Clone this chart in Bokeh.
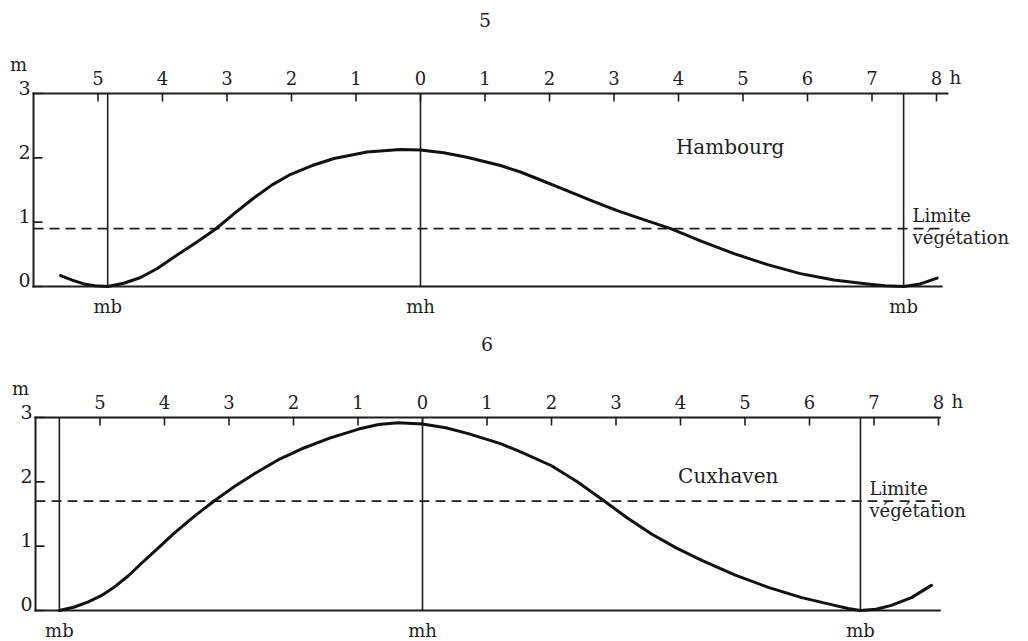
from bokeh.plotting import figure
from bokeh.layouts import column
from bokeh.models import Range1d
from bokeh.core.properties import value
from bokeh.embed import file_html
from bokeh.resources import INLINE

FONT = "DejaVu Serif"
INK = "#1e1e1e"
PX_PER_HOUR = 64.5
PX_PER_METRE = 64.33
WIDTH = 1028
TEXT_LIFT = 6  # px; the svg text box sits a little below the alphabetic anchor

# Hour scale along the top: hours before (negative) and after high water
hour_ticks = [-5, -4, -3, -2, -1, 0, 1, 2, 3, 4, 5, 6, 7, 8]
hour_labels = ["5", "4", "3", "2", "1", "0", "1", "2", "3", "4", "5", "6", "7", "8"]
metre_ticks = [0, 1, 2, 3]
metre_labels = ["0", "1", "2", "3"]

# Hambourg: water level (m) against hours from high water
hamburg_hours = [-5.58, -5.40, -5.22, -5.05, -4.85, -4.60, -4.34, -4.08, -3.82, -3.50,
                 -3.18, -2.88, -2.58, -2.30, -2.02, -1.68, -1.34, -0.83, -0.31, 0.00,
                 0.36, 0.72, 1.24, 1.55, 1.90, 2.27, 2.66, 3.05, 3.46, 3.88,
                 4.36, 4.86, 5.38, 5.89, 6.41, 6.93, 7.20, 7.49, 7.75, 8.01]
hamburg_level = [0.17, 0.10, 0.04, 0.01, 0.00, 0.05, 0.14, 0.28, 0.46, 0.67,
                 0.89, 1.14, 1.38, 1.58, 1.74, 1.88, 1.99, 2.09, 2.13, 2.12,
                 2.08, 2.01, 1.88, 1.78, 1.64, 1.49, 1.33, 1.18, 1.04, 0.90,
                 0.70, 0.51, 0.34, 0.20, 0.10, 0.04, 0.01, 0.00, 0.04, 0.13]
hamburg_low_water = [-4.85, 7.49]
hamburg_high_water = 0.0
hamburg_vegetation_limit = 0.9

# Cuxhaven: water level (m) against hours from high water
cuxhaven_hours = [-5.63, -5.41, -5.19, -4.98, -4.77, -4.56, -4.36, -4.10, -3.84, -3.53,
                  -3.22, -2.91, -2.60, -2.24, -1.88, -1.44, -0.99, -0.68, -0.38, 0.00,
                  0.36, 0.71, 1.22, 1.53, 2.00, 2.40, 2.78, 3.16, 3.55, 3.94,
                  4.33, 4.85, 5.36, 5.88, 6.39, 6.60, 6.79, 7.03, 7.27, 7.58, 7.89]
cuxhaven_level = [0.00, 0.05, 0.13, 0.23, 0.37, 0.54, 0.73, 0.97, 1.21, 1.47,
                  1.71, 1.93, 2.13, 2.34, 2.51, 2.68, 2.82, 2.89, 2.92, 2.90,
                  2.84, 2.75, 2.59, 2.46, 2.25, 2.00, 1.73, 1.45, 1.19, 0.97,
                  0.78, 0.55, 0.36, 0.20, 0.08, 0.03, 0.00, 0.02, 0.08, 0.20, 0.39]
cuxhaven_low_water = [-5.63, 6.79]
cuxhaven_high_water = 0.0
cuxhaven_vegetation_limit = 1.7


def dx(px):
    return px / PX_PER_HOUR


def dy(px):
    return px / PX_PER_METRE


def write(p, xs, ys, labels, size, align="center"):
    p.text(x=xs, y=[y + dy(TEXT_LIFT) for y in ys], text=labels, text_font=value(FONT),
           text_font_size=value(f"{size}px"), text_color=INK,
           text_align=align, text_baseline="alphabetic")


def tide_panel(fig_no, station, hours, level, low_water, high_water, limit,
               top_end, base_end, height, left_px, top_px, name_xy):
    # the plotting frame covers the whole canvas; the box sits inside it
    x0 = -6 - dx(left_px)
    y1 = 3 + dy(top_px)
    p = figure(width=WIDTH, height=height,
               x_range=Range1d(x0, x0 + dx(WIDTH)),
               y_range=Range1d(y1 - dy(height), y1),
               min_border=0, x_axis_location=None, y_axis_location=None,
               output_backend="svg", toolbar_location=None)
    p.outline_line_color = None
    p.grid.visible = False
    p.background_fill_color = "white"
    p.border_fill_color = "white"

    # box: top scale line, left scale line, base line
    p.segment(x0=[-6, -6, -6], y0=[3, 0, 0], x1=[top_end, -6, base_end], y1=[3, 3, 0],
              line_color=INK, line_width=2, line_cap="square")

    # hour ticks pointing down from the top line, with their labels
    n = len(hour_ticks)
    p.segment(x0=hour_ticks, y0=[3] * n, x1=hour_ticks, y1=[3 - dy(8)] * n,
              line_color=INK, line_width=1.6)
    write(p, hour_ticks, [3 + dy(10)] * n, hour_labels, 18)
    write(p, [8 + dx(13)], [3 + dy(10)], ["h"], 18, "left")

    # metre ticks pointing right from the left line, with their labels
    m = len(metre_ticks)
    p.segment(x0=[-6] * m, y0=metre_ticks, x1=[-6 + dx(9)] * m, y1=metre_ticks,
              line_color=INK, line_width=1.6)
    write(p, [-6 - dx(3)] * m, metre_ticks, metre_labels, 19, "right")
    write(p, [-6 - dx(15)], [3 + dy(23)], ["m"], 18)

    # verticals at low and high water, named under the base line
    marks = [low_water[0], high_water, low_water[1]]
    p.segment(x0=marks, y0=[0] * 3, x1=marks, y1=[3] * 3, line_color=INK, line_width=1.6)
    write(p, marks, [-dy(26)] * 3, ["mb", "mh", "mb"], 18)

    # vegetation limit
    p.segment(x0=[-6], y0=[limit], x1=[base_end], y1=[limit], line_color=INK,
              line_width=1.8, line_dash="10 6")
    write(p, [low_water[1] + dx(9)], [limit + dy(7)], ["Limite"], 18, "left")
    write(p, [low_water[1] + dx(9)], [limit - dy(15)], ["végétation"], 18, "left")

    # tide curve
    p.line(hours, level, line_color="#111111", line_width=3, line_join="round",
           line_cap="round")

    write(p, [1.0], [3 + dy(68)], [fig_no], 19)
    write(p, [name_xy[0]], [name_xy[1]], [station], 20)
    return p


top = tide_panel("5", "Hambourg", hamburg_hours, hamburg_level, hamburg_low_water,
                 hamburg_high_water, hamburg_vegetation_limit,
                 top_end=8.17, base_end=8.08, height=320, left_px=33, top_px=93,
                 name_xy=(4.8, 2.07))
bottom = tide_panel("6", "Cuxhaven", cuxhaven_hours, cuxhaven_level, cuxhaven_low_water,
                    cuxhaven_high_water, cuxhaven_vegetation_limit,
                    top_end=8.02, base_end=8.02, height=321, left_px=35, top_px=97,
                    name_xy=(4.74, 1.99))

layout = column(top, bottom, spacing=0)
open("out.html", "w").write(file_html(layout, INLINE))
